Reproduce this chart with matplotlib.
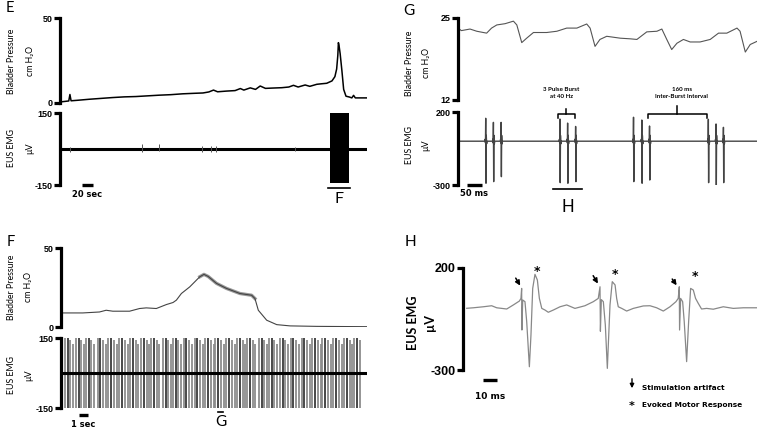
import numpy as np
import matplotlib.pyplot as plt

# ---- panel E : filling cystometry ----
e_p_t = [0, 10, 15, 17, 19, 30, 50, 70, 90, 110, 130, 150, 170, 190, 210, 230, 245, 255, 263, 270,
         285, 300, 309, 315, 326, 335, 343, 352, 365, 380, 392, 400, 408, 420, 428, 440, 448, 457,
         466, 471, 474, 476, 477, 478, 480, 483, 486, 490, 496, 500, 503, 506, 515, 526]
e_p_v = [0.6, 1.0, 1.2, 5.0, 1.3, 1.6, 2.2, 2.7, 3.2, 3.6, 3.8, 4.2, 4.6, 4.9, 5.4, 5.7, 5.9, 6.5, 7.6, 6.6,
         7.0, 7.3, 8.5, 7.6, 8.9, 8.0, 10.0, 8.6, 8.8, 9.0, 9.4, 10.4, 9.4, 10.6, 9.8, 11.0, 11.3, 11.6,
         13.0, 15.5, 20.0, 28.0, 35.5, 34.0, 29.0, 19.0, 8.0, 4.0, 3.5, 3.0, 4.5, 3.0, 3.0, 3.0]
e_emg_spike_t = [17, 140, 170, 243, 258, 267, 403]
e_emg_spike_up = [10, 22, 22, 12, 14, 12, 10]
e_emg_spike_dn = [-12, -12, -10, -14, -14, -12, -10]
e_burst = [462, 496]
e_xmax = 526

# ---- panel F : voiding with stimulation ----
f_p_t = [0, 2.6, 4.6, 5.4, 6.2, 8.2, 9.4, 10.2, 11.4, 12.6, 13.4, 13.8, 14.4, 15.4, 16.6, 17.1, 17.6,
         18.6, 19.8, 21.4, 22.8, 23.2, 23.6, 24.6, 25.8, 27.4, 30.6, 36.6]
f_p_v = [8.9, 8.9, 9.5, 10.6, 10.0, 10.0, 11.7, 12.1, 11.7, 14.2, 15.5, 17.0, 21.2, 25.4, 31.8, 33.3, 32.0,
         27.6, 24.4, 21.2, 20.1, 18.0, 10.6, 4.3, 1.5, 0.7, 0.4, 0.2]
f_tall_t = [0.8, 2.1, 3.3, 4.7, 6.0, 7.3, 8.6, 9.9, 11.1, 12.5, 13.7, 15.0, 16.3, 17.6, 18.8, 20.1,
            21.4, 22.6, 24.0, 25.2, 26.5, 27.8, 29.1, 30.4, 31.6, 32.9, 34.2, 35.4]
f_sub_dt = [-0.33, 0.33, 0.66]
f_sub_top = [150, 140, 125]
f_xmax = 36.6

# ---- panel G : expanded view ----
g_p_t = [0, 11, 39, 61, 93, 109, 126, 153, 180, 191, 207, 223, 245, 288, 321, 353, 386, 418, 429, 445,
         461, 483, 527, 559, 581, 613, 646, 662, 678, 694, 711, 732, 754, 786, 819, 846, 873, 906, 916,
         933, 949, 971]
g_p_v = [23.4, 23.0, 23.25, 22.9, 22.6, 23.4, 23.9, 24.1, 24.5, 23.9, 21.1, 21.8, 22.7, 22.7, 22.9, 23.4,
         23.4, 24.05, 23.4, 20.5, 21.6, 22.1, 21.8, 21.7, 21.6, 22.8, 22.9, 23.25, 21.6, 20.0, 21.0, 21.6,
         21.2, 21.2, 21.6, 22.6, 22.6, 23.4, 22.9, 19.6, 20.8, 21.3]
g_spike_t = [90, 115, 140, 331, 356, 382, 570, 597, 622, 813, 838, 862]
g_spike_top = [157, 129, 129, 152, 124, 101, 164, 145, 104, 150, 118, 95]
g_spike_bot = [-288, -277, -243, -284, -288, -277, -277, -288, -266, -284, -300, -284]
g_shape_dt = [-3, -1.5, -0.8, 0, 0.9, 1.8, 3, 4.5]
g_xmax = 971

# ---- panel H : single burst ----
h_t = [0, 5, 12.5, 18.7, 22.5, 30, 35, 39.5, 40.7, 41.2, 41.4, 42, 43.7, 45, 47, 48.2, 49.5, 51.2, 53,
       54.5, 56.3, 58.7, 61.2, 65, 70, 75, 81.2, 88.7, 95, 98.7, 100.0, 100.3, 101, 102.5, 104, 105.5,
       107.5, 109.2, 111.3, 112.5, 113.7, 116.3, 120, 125, 132.5, 137.5, 142.5, 147.5, 152.5, 157, 158.7,
       159.5, 159.7, 160.5, 162, 163.2, 165, 166.5, 168, 170, 171.7, 173.7, 176.2, 180, 185, 192.5, 200,
       207.5, 217.5]
h_v = [2.5, 5, 10, 15, 5, -1, 19, 38, 51, 100, -104, 43, 35, -63, -284, -128, 100, 169, 141,
       51, 2, -6, -17, -6, 10, 19, 2, 15, 35, 51, 108, -110, 45, 35, -80, -292,
       19, 133, 117, 51, 10, 2, -11, 2, 14, 15, 5, -11, 10, 35, 51,
       108, -104, 51, 35, -63, -259, -63, 100, 92, 51, 27, -1, 2, -2, 10, 2,
       5, 5]
h_star_t = [52.5, 111.3, 171]
h_star_v = [182, 168, 160]
h_arrow_from = [(35.7, 162), (93.8, 174), (153, 157)]
h_arrow_to = [(41.2, 102), (99.5, 112), (158.7, 104)]
h_xlim = (-2.8, 217.8)

W, H = 764, 436
fig = plt.figure(figsize=(W / 100, H / 100), dpi=100)


def px_axes(x0, x1, y0, y1):
    return fig.add_axes([x0 / W, 1 - y1 / H, (x1 - x0) / W, (y1 - y0) / H])


def style(ax, lo, hi, fs=6.5):
    for s in ['top', 'right', 'bottom']:
        ax.spines[s].set_visible(False)
    ax.spines['left'].set_linewidth(2.3)
    ax.set_ylim(lo, hi)
    ax.set_yticks([lo, hi])
    ax.set_yticklabels([str(lo), str(hi)], fontweight='bold', fontsize=fs, family='Liberation Sans')
    ax.set_xticks([])
    ax.tick_params(axis='y', length=4, width=2.3, pad=1.5)
    ax.patch.set_alpha(0)


def ftext(x, y, s, **kw):
    fig.text(x / W, 1 - y / H, s, **kw)


def ylab(x, y, s, fs=6.3, weight='normal'):
    ftext(x, y, s, rotation=90, ha='center', va='center', fontsize=fs, fontweight=weight,
          family=['Lato', 'DejaVu Sans'])


def scalebar(ax, x0, length, y, label, ty, fs=6):
    tr = ax.get_xaxis_transform()
    ax.plot([x0, x0 + length], [y, y], color='black', lw=2.4, solid_capstyle='butt',
            transform=tr, clip_on=False)
    ax.text(x0 + length / 2, ty, label, transform=tr, ha='center', va='center',
            fontsize=fs, fontweight='bold', family='DejaVu Sans')


def marker(ax, x0, x1, y, letter, ty, fs=11.5):
    tr = ax.get_xaxis_transform()
    ax.plot([x0, x1], [y, y], color='black', lw=1.2, transform=tr, clip_on=False)
    ax.text((x0 + x1) / 2, ty, letter, transform=tr, ha='center', va='center',
            fontsize=fs, family='Lato')


# ---------------- E ----------------
ax = px_axes(60, 367, 18, 103)
style(ax, 0, 50)
ax.plot(e_p_t, e_p_v, color='black', lw=1.1)
ax.set_xlim(0, e_xmax)

ax = px_axes(60, 367, 113, 185)
style(ax, -150, 150)
ax.set_xlim(0, e_xmax)
ax.plot([0, e_xmax], [0, 0], color='black', lw=2.2)
ax.vlines(e_emg_spike_t, e_emg_spike_dn, e_emg_spike_up, color='#555555', lw=0.7)
ax.fill_between(e_burst, -140, 150, color='black', lw=0)
scalebar(ax, 37, 20, 0.0, '20 sec', -0.125)
marker(ax, 460, 497, -0.035, 'F', -0.2)

ftext(10, 8, 'E', fontsize=10.5, family='Lato', ha='center', va='center')
ylab(12, 61, 'Bladder Pressure')
ylab(30, 61, 'cm H₂O')
ylab(12, 148, 'EUS EMG')
ylab(30, 148, 'µV')

# ---------------- G ----------------
ax = px_axes(458, 757, 18, 100)
style(ax, 12, 25)
ax.plot(g_p_t, g_p_v, color='#555555', lw=0.8)
ax.set_xlim(0, g_xmax)

ax = px_axes(458, 757, 112, 185)
style(ax, -300, 200)
ax.set_xlim(0, g_xmax)
gt, gv = [0], [0]
for t0, top, bot in zip(g_spike_t, g_spike_top, g_spike_bot):
    shape = [0, 14, -12, top, bot, 40, -18, 0]
    gt += [t0 + d for d in g_shape_dt]
    gv += shape
gt.append(g_xmax)
gv.append(0)
ax.plot(gt, gv, color='#444444', lw=1.0)
# brackets
for x0, x1, xc, ytop in [(325, 380, 352, 220), (617, 809, 712, 241)]:
    ax.plot([x0, x0, x1, x1], [159, 188, 188, 159], color='black', lw=1.1, clip_on=False)
    ax.plot([xc, xc], [188, ytop], color='black', lw=1.1, clip_on=False)
ax.text(335, 330, '3 Pulse Burst\nat 40 Hz', ha='center', va='center', fontsize=4.4,
        fontweight='bold', family='Lato', linespacing=1.3)
ax.text(727, 330, '160 ms\nInter-Burst Interval', ha='center', va='center', fontsize=4.4,
        fontweight='bold', family='Lato', linespacing=1.3)
scalebar(ax, 28, 50, 0.0, '50 ms', -0.12)
marker(ax, 310, 403, -0.055, 'H', -0.3, fs=12)

ftext(409, 11, 'G', fontsize=11, family='Lato', ha='center', va='center')
ylab(409, 63, 'Bladder Pressure')
ylab(426, 63, 'cm H₂O')
ylab(409, 145, 'EUS EMG')
ylab(426, 145, 'µV')

# ---------------- F ----------------
ax = px_axes(61, 367, 248, 327)
style(ax, 0, 50)
ax.set_xlim(0, f_xmax)
seg = [i for i, t in enumerate(f_p_t) if 16.6 <= t <= 23.2]
ax.plot([f_p_t[i] for i in seg], [f_p_v[i] for i in seg], color='#999999', lw=2.4)
ax.plot(f_p_t, f_p_v, color='#444444', lw=0.8)

ax = px_axes(61, 367, 338, 408)
style(ax, -150, 150)
ax.set_xlim(0, f_xmax)
for dt, top in zip(f_sub_dt, f_sub_top):
    ts = [t + dt for t in f_tall_t if 0.1 < t + dt < 35.9]
    ax.vlines(ts, -150, top, color='#8c8c8c', lw=1.3)
ax.vlines(f_tall_t, -150, 150, color='#2a2a2a', lw=1.2)
ax.plot([0, f_xmax], [0, 0], color='black', lw=2.2)
scalebar(ax, 2.2, 1, -0.107, '1 sec', -0.24)
marker(ax, 18.8, 19.4, -0.053, 'G', -0.2, fs=11)

ftext(11, 242, 'F', fontsize=10.5, family='Lato', ha='center', va='center')
ylab(12, 287, 'Bladder Pressure')
ylab(29, 287, 'cm H₂O')
ylab(12, 375, 'EUS EMG')
ylab(29, 375, 'µV')

# ---------------- H ----------------
ax = px_axes(463, 757, 268, 370)
style(ax, -300, 200, fs=9)
ax.set_xlim(*h_xlim)
ax.plot(h_t, h_v, color='#888888', lw=0.9)
for (x0, y0), (x1, y1) in zip(h_arrow_from, h_arrow_to):
    ax.annotate('', xy=(x1, y1), xytext=(x0, y0),
                arrowprops=dict(arrowstyle='-|>', color='black', lw=1.1, mutation_scale=7))
for t, v in zip(h_star_t, h_star_v):
    ax.text(t, v, '*', ha='center', va='center', fontsize=9, fontweight='bold', family='DejaVu Sans')
scalebar(ax, 12.5, 10, -0.1, '10 ms', -0.255, fs=6.5)

ftext(410, 242, 'H', fontsize=11, family='Lato', ha='center', va='center')
ylab(413, 323, 'EUS EMG', fs=9, weight='bold')
ylab(430, 323, 'µV', fs=9, weight='bold')

fig.patches.append(plt.matplotlib.patches.FancyArrowPatch(
    (632 / W, 1 - 376 / H), (632 / W, 1 - 391 / H), transform=fig.transFigure,
    arrowstyle='-|>', mutation_scale=6, color='black', lw=1.0))
ftext(642, 388, 'Stimulation artifact', fontsize=5.3, fontweight='bold', family='DejaVu Sans',
      va='center', ha='left')
ftext(632, 406, '*', fontsize=8, fontweight='bold', family='DejaVu Sans', va='center', ha='center')
ftext(642, 405, 'Evoked Motor Response', fontsize=5.3, fontweight='bold', family='DejaVu Sans',
      va='center', ha='left')

fig.savefig('out.png', dpi=100)
